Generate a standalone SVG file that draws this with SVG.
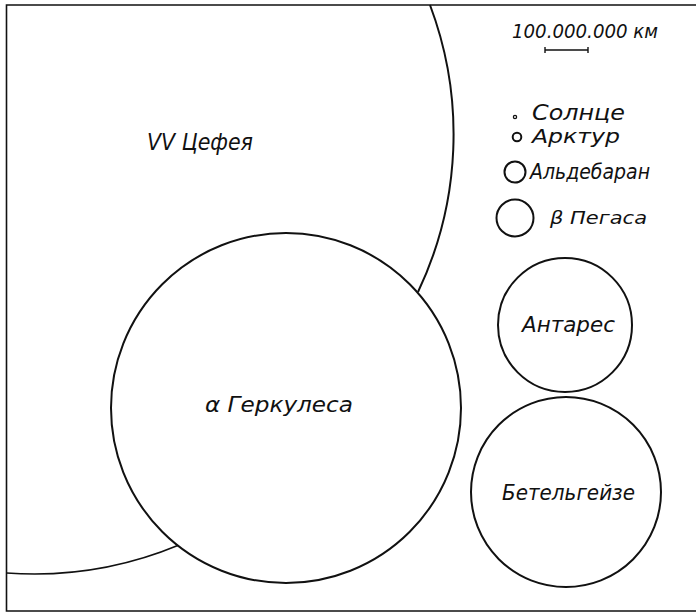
<svg xmlns="http://www.w3.org/2000/svg" width="696" height="614" viewBox="0 0 696 614">
  <style>
    .outline { fill: none; stroke: #111; stroke-width: 2; }
    .disc { fill: #fff; stroke: #111; stroke-width: 2; }
    .frame { fill: none; stroke: #111; stroke-width: 1.6; }
    .label { font-family: "DejaVu Sans Condensed", "DejaVu Sans", sans-serif; font-style: oblique; fill: #111; }
  </style>

  <rect width="696" height="614" fill="#fff"/>

  <!-- frame: open on the right side -->
  <path class="frame" d="M696 5 H6.5 V611 H696"/>

  <!-- VV Cephei: huge disc, only partly inside the frame -->
  <g id="vv-cephei">
    <path class="outline" d="M430 5 A367 367 0 0 1 418 292"/>
    <path class="outline" style="stroke-width:1.6" d="M179 545 A378 378 0 0 1 6.5 573"/>
    <text class="label" x="147" y="150" font-size="23" textLength="106" lengthAdjust="spacingAndGlyphs">VV Цефея</text>
  </g>

  <!-- alpha Herculis -->
  <g id="alpha-herculis">
    <circle class="disc" cx="286" cy="408" r="175"/>
    <text class="label" x="205" y="412" font-size="22" textLength="148" lengthAdjust="spacingAndGlyphs">α Геркулеса</text>
  </g>

  <!-- scale bar -->
  <g id="scale">
    <text class="label" x="512" y="38" font-size="20" textLength="146" lengthAdjust="spacingAndGlyphs">100.000.000 км</text>
    <path fill="none" stroke="#111" stroke-width="1.4" d="M545 50 H588 M545 47 V53 M588 47 V53"/>
  </g>

  <!-- smaller stars -->
  <g id="sun">
    <circle class="outline" style="stroke-width:1.3" cx="515" cy="117" r="1.6"/>
    <text class="label" x="532" y="120" font-size="21" textLength="93" lengthAdjust="spacingAndGlyphs">Солнце</text>
  </g>

  <g id="arcturus">
    <circle class="outline" cx="517" cy="137" r="4.3"/>
    <text class="label" x="532" y="143" font-size="19" textLength="88" lengthAdjust="spacingAndGlyphs">Арктур</text>
  </g>

  <g id="aldebaran">
    <circle class="outline" cx="515" cy="172" r="10.5"/>
    <text class="label" x="530" y="179" font-size="21" textLength="120" lengthAdjust="spacingAndGlyphs">Альдебаран</text>
  </g>

  <g id="beta-pegasi">
    <circle class="outline" cx="515" cy="218" r="18.5"/>
    <text class="label" x="550" y="224" font-size="18" textLength="97" lengthAdjust="spacingAndGlyphs">β Пегаса</text>
  </g>

  <g id="antares">
    <circle class="outline" cx="565" cy="325" r="67"/>
    <text class="label" x="522" y="332" font-size="22" textLength="93" lengthAdjust="spacingAndGlyphs">Антарес</text>
  </g>

  <g id="betelgeuse">
    <circle class="outline" cx="566" cy="492" r="95"/>
    <text class="label" x="502" y="500" font-size="22" textLength="133" lengthAdjust="spacingAndGlyphs">Бетельгейзе</text>
  </g>
</svg>
